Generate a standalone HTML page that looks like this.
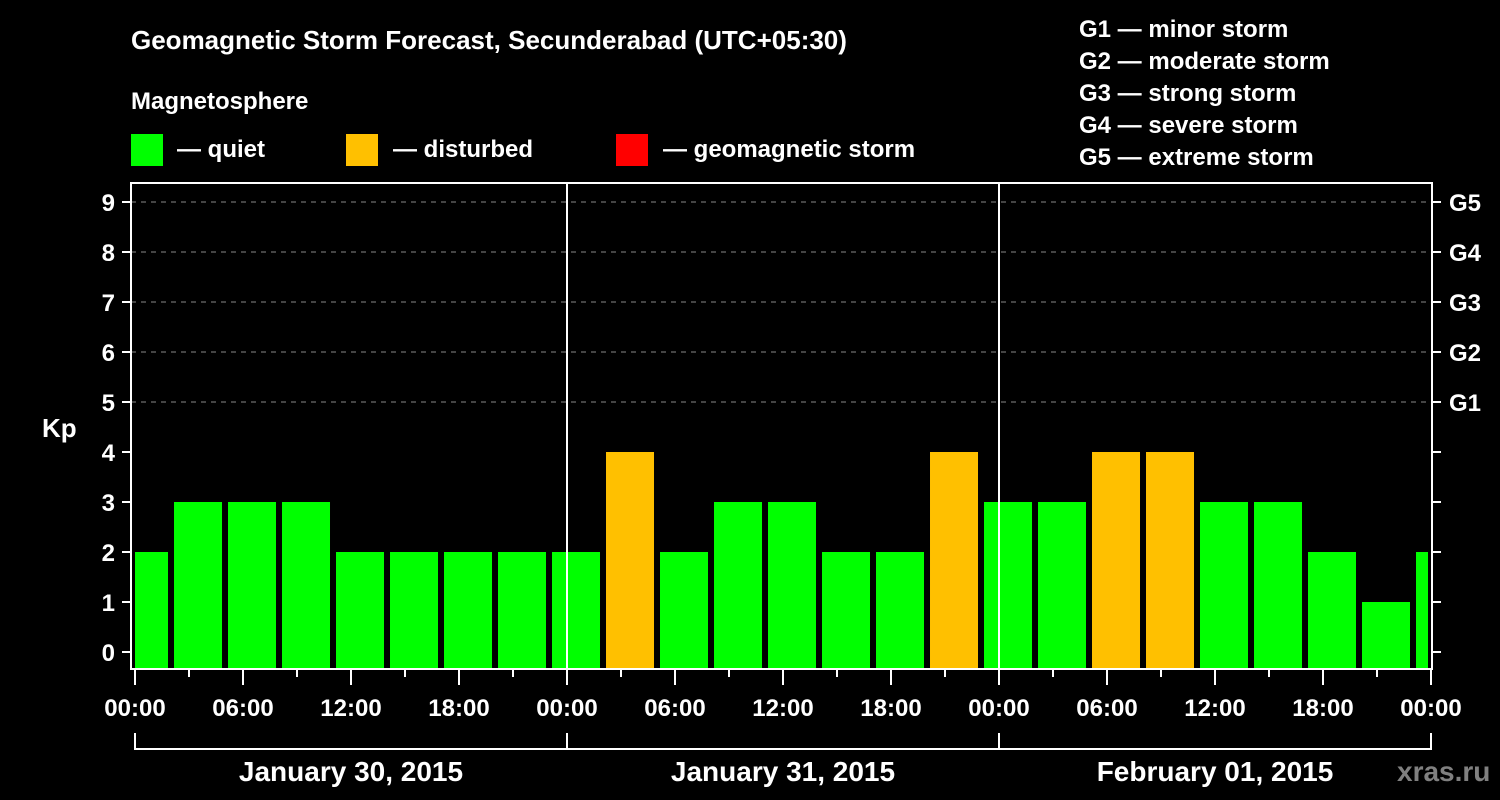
<!DOCTYPE html>
<html><head><meta charset="utf-8"><style>
html,body{margin:0;padding:0;background:#000;}
svg{display:block;font-family:"Liberation Sans",Arial,sans-serif;font-weight:bold;}
</style></head><body>
<svg width="1500" height="800" viewBox="0 0 1500 800" xmlns="http://www.w3.org/2000/svg">
<rect width="1500" height="800" fill="#000"/>
<text x="131" y="49" fill="#fff" font-size="26">Geomagnetic Storm Forecast, Secunderabad (UTC+05:30)</text>
<text x="131" y="109" fill="#fff" font-size="24">Magnetosphere</text>
<g>
<rect x="131" y="134" width="32" height="32" fill="#00ff00"/>
<text x="177" y="157" fill="#fff" font-size="24">— quiet</text>
<rect x="346" y="134" width="32" height="32" fill="#ffc000"/>
<text x="393" y="157" fill="#fff" font-size="24">— disturbed</text>
<rect x="616" y="134" width="32" height="32" fill="#ff0000"/>
<text x="663" y="157" fill="#fff" font-size="24">— geomagnetic storm</text>
</g>
<g fill="#fff" font-size="24">
<text x="1079" y="37">G1 — minor storm</text>
<text x="1079" y="69">G2 — moderate storm</text>
<text x="1079" y="101">G3 — strong storm</text>
<text x="1079" y="133">G4 — severe storm</text>
<text x="1079" y="165">G5 — extreme storm</text>
</g>
<text x="42" y="437" fill="#fff" font-size="26">Kp</text>
<g id="grid"></g><g id="bars"></g><g id="axes"></g>
<text x="1397" y="781" fill="#808080" font-size="28">xras.ru</text>
</svg>
<script>
const kpValues=[2,3,3,3,2,2,2,2,2,4,2,3,3,2,2,4,3,3,4,4,3,3,2,1,2];
const yTicks=[0,1,2,3,4,5,6,7,8,9];
const gLabels=["G1","G2","G3","G4","G5"];
const xTickLabels=["00:00","06:00","12:00","18:00","00:00","06:00","12:00","18:00","00:00","06:00","12:00","18:00","00:00"];
const dayLabels=["January 30, 2015","January 31, 2015","February 01, 2015"];
const NS="http://www.w3.org/2000/svg";
const L=131,R=1432,T=183,B=669,X0=135;
const xH=h=>X0+18*h; // hours
const yK=k=>652-50*k;
function mk(t,a,p){const e=document.createElementNS(NS,t);for(const k in a)e.setAttribute(k,a[k]);(p||document.querySelector('svg')).appendChild(e);return e;}
const grid=document.getElementById('grid'),bars=document.getElementById('bars'),axes=document.getElementById('axes');
yTicks.forEach(k=>{
  if(k>=5){const g=mk('line',{x1:L,x2:R,y1:yK(k),y2:yK(k),stroke:'#888','stroke-dasharray':'5,5','stroke-width':1},grid);
  }
  const t=mk('line',{x1:L-9,x2:L,y1:yK(k),y2:yK(k),stroke:'#fff','stroke-width':2},axes);
  
  const t2=mk('line',{x1:R,x2:R+9,y1:yK(k),y2:yK(k),stroke:'#fff','stroke-width':2},axes);
  
  const l=mk('text',{x:L-16,y:yK(k)+9,fill:'#fff','font-size':24,'text-anchor':'end'},axes);l.textContent=k;
  
});
gLabels.forEach((g,i)=>{const l=mk('text',{x:1449,y:yK(5+i)+9,fill:'#fff','font-size':24},axes);l.textContent=g;
  });
kpValues.forEach((v,i)=>{
  let x1=xH(-0.833+3*i),x2=x1+48;x1=Math.max(x1,X0);x2=Math.min(x2,1428);
  const top=yK(v);
  const r=mk('rect',{x:x1,y:top,width:x2-x1,height:B-top,fill:v>=5?'#ff0000':(v>=4?'#ffc000':'#00ff00')},bars);
  
});
[1,2].forEach(d=>{const l=mk('line',{x1:xH(24*d),x2:xH(24*d),y1:T,y2:B,stroke:'#fff','stroke-width':2},axes);
  });
const fr=mk('rect',{x:L,y:T,width:R-L,height:B-T,fill:'none',stroke:'#fff','stroke-width':2},axes);

for(let i=0;i<=24;i++){const x=xH(3*i);const major=i%2==0;
  const t=mk('line',{x1:x,x2:x,y1:B,y2:B+(major?16:8),stroke:'#fff','stroke-width':2},axes);
  }
xTickLabels.forEach((s,i)=>{const l=mk('text',{x:xH(6*i),y:716,fill:'#fff','font-size':24,'text-anchor':'middle'},axes);l.textContent=s;
  });
const br=mk('path',{d:`M${xH(0)},733V749H${xH(72)}V733`,fill:'none',stroke:'#fff','stroke-width':2},axes);

[1,2].forEach(d=>{const l=mk('line',{x1:xH(24*d),x2:xH(24*d),y1:733,y2:749,stroke:'#fff','stroke-width':2},axes);
  });
dayLabels.forEach((s,i)=>{const l=mk('text',{x:xH(24*i+12),y:781,fill:'#fff','font-size':28,'text-anchor':'middle'},axes);l.textContent=s;
  });
</script>
</body></html>
